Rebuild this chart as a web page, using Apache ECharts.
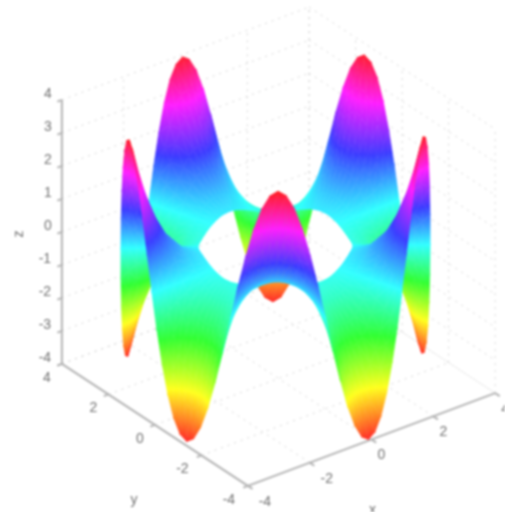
<!DOCTYPE html>
<html>
<head>
<meta charset="utf-8">
<style>
html,body{margin:0;padding:0;background:#fff;}
#chart{width:505px;height:512px;filter:blur(1px);}
</style>
<script src="https://cdn.jsdelivr.net/npm/echarts@6/dist/echarts.min.js"></script>
</head>
<body>
<div id="chart"></div>
<script>
var xTicks = [-4, -2, 0, 2, 4];
var yTicks = [-4, -2, 0, 2, 4];
var zTicks = [-4, -3, -2, -1, 0, 1, 2, 3, 4];

// surface: one row per radius, one value every 3 degrees
var radii = [2.0, 2.5, 3.0, 3.3, 3.6, 3.8, 4.0];
var angleStep = 3;
var ring20 = [0,.03,.06,.09,.11,.12,.13,.12,.11,.09,.06,.03,0,-.03,-.06,-.09,-.11,-.12,-.13,-.12,-.11,-.09,-.06,-.03,0,.03,.06,.09,.11,.12,.13,.12,.11,.09,.06,.03,0,-.03,-.06,-.09,-.11,-.12,-.13,-.12,-.11,-.09,-.06,-.03,0,.03,.06,.09,.11,.12,.13,.12,.11,.09,.06,.03,0,-.03,-.06,-.09,-.11,-.12,-.13,-.12,-.11,-.09,-.06,-.03,0,.03,.06,.09,.11,.12,.13,.12,.11,.09,.06,.03,0,-.03,-.06,-.09,-.11,-.12,-.13,-.12,-.11,-.09,-.06,-.03,0,.03,.06,.09,.11,.12,.13,.12,.11,.09,.06,.03,0,-.03,-.06,-.09,-.11,-.12,-.13,-.12,-.11,-.09,-.06,-.03];
var ring25 = [0,.1,.19,.27,.33,.37,.38,.37,.33,.27,.19,.1,0,-.1,-.19,-.27,-.33,-.37,-.38,-.37,-.33,-.27,-.19,-.1,0,.1,.19,.27,.33,.37,.38,.37,.33,.27,.19,.1,0,-.1,-.19,-.27,-.33,-.37,-.38,-.37,-.33,-.27,-.19,-.1,0,.1,.19,.27,.33,.37,.38,.37,.33,.27,.19,.1,0,-.1,-.19,-.27,-.33,-.37,-.38,-.37,-.33,-.27,-.19,-.1,0,.1,.19,.27,.33,.37,.38,.37,.33,.27,.19,.1,0,-.1,-.19,-.27,-.33,-.37,-.38,-.37,-.33,-.27,-.19,-.1,0,.1,.19,.27,.33,.37,.38,.37,.33,.27,.19,.1,0,-.1,-.19,-.27,-.33,-.37,-.38,-.37,-.33,-.27,-.19,-.1];
var ring30 = [0,.25,.48,.67,.82,.92,.95,.92,.82,.67,.48,.25,0,-.25,-.48,-.67,-.82,-.92,-.95,-.92,-.82,-.67,-.48,-.25,0,.25,.48,.67,.82,.92,.95,.92,.82,.67,.48,.25,0,-.25,-.48,-.67,-.82,-.92,-.95,-.92,-.82,-.67,-.48,-.25,0,.25,.48,.67,.82,.92,.95,.92,.82,.67,.48,.25,0,-.25,-.48,-.67,-.82,-.92,-.95,-.92,-.82,-.67,-.48,-.25,0,.25,.48,.67,.82,.92,.95,.92,.82,.67,.48,.25,0,-.25,-.48,-.67,-.82,-.92,-.95,-.92,-.82,-.67,-.48,-.25,0,.25,.48,.67,.82,.92,.95,.92,.82,.67,.48,.25,0,-.25,-.48,-.67,-.82,-.92,-.95,-.92,-.82,-.67,-.48,-.25];
var ring33 = [0,.4,.77,1.08,1.33,1.48,1.53,1.48,1.33,1.08,.77,.4,0,-.4,-.77,-1.08,-1.33,-1.48,-1.53,-1.48,-1.33,-1.08,-.77,-.4,0,.4,.77,1.08,1.33,1.48,1.53,1.48,1.33,1.08,.77,.4,0,-.4,-.77,-1.08,-1.33,-1.48,-1.53,-1.48,-1.33,-1.08,-.77,-.4,0,.4,.77,1.08,1.33,1.48,1.53,1.48,1.33,1.08,.77,.4,0,-.4,-.77,-1.08,-1.33,-1.48,-1.53,-1.48,-1.33,-1.08,-.77,-.4,0,.4,.77,1.08,1.33,1.48,1.53,1.48,1.33,1.08,.77,.4,0,-.4,-.77,-1.08,-1.33,-1.48,-1.53,-1.48,-1.33,-1.08,-.77,-.4,0,.4,.77,1.08,1.33,1.48,1.53,1.48,1.33,1.08,.77,.4,0,-.4,-.77,-1.08,-1.33,-1.48,-1.53,-1.48,-1.33,-1.08,-.77,-.4];
var ring36 = [0,.61,1.18,1.67,2.04,2.28,2.36,2.28,2.04,1.67,1.18,.61,0,-.61,-1.18,-1.67,-2.04,-2.28,-2.36,-2.28,-2.04,-1.67,-1.18,-.61,0,.61,1.18,1.67,2.04,2.28,2.36,2.28,2.04,1.67,1.18,.61,0,-.61,-1.18,-1.67,-2.04,-2.28,-2.36,-2.28,-2.04,-1.67,-1.18,-.61,0,.61,1.18,1.67,2.04,2.28,2.36,2.28,2.04,1.67,1.18,.61,0,-.61,-1.18,-1.67,-2.04,-2.28,-2.36,-2.28,-2.04,-1.67,-1.18,-.61,0,.61,1.18,1.67,2.04,2.28,2.36,2.28,2.04,1.67,1.18,.61,0,-.61,-1.18,-1.67,-2.04,-2.28,-2.36,-2.28,-2.04,-1.67,-1.18,-.61,0,.61,1.18,1.67,2.04,2.28,2.36,2.28,2.04,1.67,1.18,.61,0,-.61,-1.18,-1.67,-2.04,-2.28,-2.36,-2.28,-2.04,-1.67,-1.18,-.61];
var ring38 = [0,.8,1.55,2.15,2.62,2.9,3.0,2.9,2.62,2.15,1.55,.8,0,-.8,-1.55,-2.19,-2.68,-2.99,-3.1,-2.99,-2.68,-2.19,-1.55,-.8,0,.8,1.55,2.15,2.62,2.9,3.0,2.9,2.62,2.15,1.55,.8,0,-.8,-1.55,-2.19,-2.68,-2.99,-3.1,-2.99,-2.68,-2.19,-1.55,-.8,0,.8,1.55,2.19,2.68,2.99,3.1,2.99,2.68,2.19,1.55,.8,0,-.8,-1.55,-2.19,-2.68,-2.99,-3.1,-2.99,-2.68,-2.19,-1.55,-.8,0,.8,1.55,2.19,2.68,2.99,3.1,2.99,2.68,2.19,1.55,.8,0,-.8,-1.55,-2.19,-2.68,-2.99,-3.1,-2.99,-2.68,-2.19,-1.55,-.8,0,.8,1.55,2.19,2.68,2.99,3.1,2.99,2.68,2.19,1.55,.8,0,-.8,-1.55,-2.19,-2.68,-2.99,-3.1,-2.99,-2.68,-2.19,-1.55,-.8];
var ring40 = [0,1.01,1.95,2.76,3.38,3.76,3.9,3.76,3.38,2.76,1.95,1.01,0,-1.04,-2,-2.83,-3.46,-3.86,-4,-3.86,-3.46,-2.83,-2,-1.04,0,1.01,1.95,2.76,3.38,3.76,3.9,3.76,3.38,2.76,1.95,1.01,0,-1.04,-2,-2.83,-3.46,-3.86,-4,-3.86,-3.46,-2.83,-2,-1.04,0,1.04,2,2.83,3.46,3.86,4,3.86,3.46,2.83,2,1.04,0,-1.04,-2,-2.83,-3.46,-3.86,-4,-3.86,-3.46,-2.83,-2,-1.04,0,1.04,2,2.83,3.46,3.86,4,3.86,3.46,2.83,2,1.04,0,-1.04,-2,-2.83,-3.46,-3.86,-4,-3.86,-3.46,-2.83,-2,-1.04,0,1.04,2,2.83,3.46,3.86,4,3.86,3.46,2.83,2,1.04,0,-1.04,-2,-2.83,-3.46,-3.86,-4,-3.86,-3.46,-2.83,-2,-1.04];
var rings = [ring20, ring25, ring30, ring33, ring36, ring38, ring40];

var colorZ = [-4, -2.67, -1.33, 0, 1.33, 2.67, 4];
var colorRgb = [[255,40,40],[255,255,30],[50,255,50],[50,255,255],[60,60,255],[255,30,255],[255,30,30]];

// camera: pixels per data unit of the box, orthographic
var view = {cx: 278.5, cy: 246.5, xx: 30.9, xy: -11.6, yx: -23.25, yy: -15.25, zy: -33};
// the surface sits a little left of the box in the picture (the original has slight perspective)
var surfaceDx = -3;

function project(x, y, z) {
    return [view.cx + view.xx * x + view.yx * y, view.cy + view.xy * x + view.yy * y + view.zy * z];
}

function depthOf(x, y, z) {
    return -0.784 * x - 1.031 * y + 0.839 * z;
}

function colorAt(z) {
    var i = 0;
    if (z <= colorZ[0]) return colorRgb[0];
    while (i < colorZ.length - 2 && z > colorZ[i + 1]) i++;
    var t = Math.min(1, (z - colorZ[i]) / (colorZ[i + 1] - colorZ[i]));
    var a = colorRgb[i], b = colorRgb[i + 1];
    return [a[0] + (b[0] - a[0]) * t, a[1] + (b[1] - a[1]) * t, a[2] + (b[2] - a[2]) * t];
}

function css(c) {
    return 'rgb(' + Math.round(c[0]) + ',' + Math.round(c[1]) + ',' + Math.round(c[2]) + ')';
}

function triFill(pts) {
    // pts: [[px,py,z],...], gradient runs across the z iso-lines of the triangle
    pts = pts.slice().sort(function (p, q) { return p[2] - q[2]; });
    var a = pts[0], b = pts[1], c = pts[2];
    var dz = c[2] - a[2];
    if (dz < 1e-6) return css(colorAt(a[2]));
    var t = (b[2] - a[2]) / dz;
    var ex = a[0] + (c[0] - a[0]) * t - b[0], ey = a[1] + (c[1] - a[1]) * t - b[1];
    var len = Math.sqrt(ex * ex + ey * ey);
    var nx, ny;
    if (len < 1e-6) {
        nx = c[0] - a[0]; ny = c[1] - a[1];
        len = Math.sqrt(nx * nx + ny * ny) || 1;
        nx /= len; ny /= len;
    } else {
        nx = -ey / len; ny = ex / len;
    }
    var d = (c[0] - a[0]) * nx + (c[1] - a[1]) * ny;
    if (Math.abs(d) < 0.01) return css(colorAt((a[2] + c[2]) / 2));
    var stops = [{offset: 0, color: css(colorAt(a[2]))}];
    colorZ.forEach(function (z) {
        if (z > a[2] && z < c[2]) stops.push({offset: (z - a[2]) / dz, color: css(colorAt(z))});
    });
    stops.push({offset: 1, color: css(colorAt(c[2]))});
    return new echarts.graphic.LinearGradient(a[0], a[1], a[0] + nx * d, a[1] + ny * d, stops, true);
}

function buildCells() {
    var cells = [];
    var n = ring40.length;
    function vertex(i, j) {
        var th = j * angleStep * Math.PI / 180;
        return [radii[i] * Math.cos(th), radii[i] * Math.sin(th), rings[i][j % n]];
    }
    function push(p, q, s) {
        cells.push(p.concat(q, s, [depthOf((p[0] + q[0] + s[0]) / 3, (p[1] + q[1] + s[1]) / 3, (p[2] + q[2] + s[2]) / 3)]));
    }
    for (var i = 0; i < radii.length - 1; i++) {
        for (var j = 0; j < n; j++) {
            var a = vertex(i, j), b = vertex(i + 1, j), c = vertex(i + 1, j + 1), d = vertex(i, j + 1);
            push(a, b, c);
            push(a, c, d);
        }
    }
    cells.sort(function (p, q) { return p[9] - q[9]; });
    return cells;
}

function renderCell(params, api) {
    var pts = [0, 3, 6].map(function (k) {
        var z = api.value(k + 2);
        var xy = project(api.value(k), api.value(k + 1), z);
        var p = api.coord([xy[0] + surfaceDx, xy[1]]);
        return [p[0], p[1], z];
    });
    var fill = triFill(pts);
    return {
        type: 'polygon',
        shape: {points: pts.map(function (p) { return [p[0], p[1]]; })},
        style: {fill: fill, stroke: fill, lineWidth: 0.6}
    };
}

function lineRenderer(style) {
    return function (params, api) {
        var p = api.coord(project(api.value(0), api.value(1), api.value(2)));
        var q = api.coord(project(api.value(3), api.value(4), api.value(5)));
        return {type: 'line', shape: {x1: p[0], y1: p[1], x2: q[0], y2: q[1]}, style: style};
    };
}

function buildGrid() {
    var out = [];
    zTicks.forEach(function (z) {
        out.push([-4, 4, z, 4, 4, z]);
        out.push([4, 4, z, 4, -4, z]);
    });
    xTicks.forEach(function (x) {
        out.push([x, 4, -4, x, 4, 4]);
        out.push([x, -4, -4, x, 4, -4]);
    });
    yTicks.forEach(function (y) {
        out.push([4, y, -4, 4, y, 4]);
        out.push([-4, y, -4, 4, y, -4]);
    });
    return out;
}

function buildAxes() {
    var out = [
        [-4, 4, -4, -4, 4, 4],
        [-4, 4, -4, -4, -4, -4],
        [-4, -4, -4, 4, -4, -4]
    ];
    zTicks.forEach(function (z) { out.push([-4, 4, z, -4.15, 4, z]); });
    yTicks.forEach(function (y) { out.push([-4, y, -4, -4.15, y, -4]); });
    xTicks.forEach(function (x) { out.push([x, -4, -4, x, -4.2, -4]); });
    return out;
}

var labels = [];
zTicks.forEach(function (z) { labels.push({pos: [-4, 4, z], text: String(z), dx: z < 0 ? -17 : -14, dy: -6}); });
yTicks.forEach(function (y) { labels.push({pos: [-4, y, -4], text: String(y), dx: y < 0 ? -19 : -15, dy: 14}); });
xTicks.forEach(function (x) { labels.push({pos: [x, -4, -4], text: String(x), dx: x < 0 ? 17 : 10, dy: 16}); });
labels.push({pos: [-4, 4, 0], text: 'z', dx: -43, dy: 2, rotate: Math.PI / 2});
labels.push({pos: [-4, 0, -4], text: 'y', dx: -21, dy: 75});
labels.push({pos: [0, -4, -4], text: 'x', dx: 1, dy: 71});

function textRenderer(params, api) {
    var p = api.coord(project(api.value(0), api.value(1), api.value(2)));
    var item = labels[params.dataIndex];
    return {
        type: 'text',
        x: p[0] + item.dx,
        y: p[1] + item.dy,
        rotation: item.rotate || 0,
        style: {text: item.text, fill: '#707070', font: '14px "Liberation Sans", sans-serif', textAlign: 'center', textVerticalAlign: 'middle'}
    };
}

var chart = echarts.init(document.getElementById('chart'), null, {renderer: 'canvas'});
chart.setOption({
    animation: false,
    backgroundColor: '#fff',
    grid: {left: 0, right: 0, top: 0, bottom: 0},
    xAxis: {type: 'value', min: 0, max: 505, show: false},
    yAxis: {type: 'value', min: 0, max: 512, inverse: true, show: false},
    series: [
        {type: 'custom', silent: true, z: 1, clip: false, renderItem: lineRenderer({stroke: '#d8d8d8', lineWidth: 1, lineDash: [2, 5]}), data: buildGrid()},
        {type: 'custom', silent: true, z: 2, clip: false, renderItem: lineRenderer({stroke: '#b4b4b4', lineWidth: 2}), data: buildAxes()},
        {type: 'custom', silent: true, z: 3, clip: false, progressive: 0, renderItem: renderCell, data: buildCells()},
        {type: 'custom', silent: true, z: 4, clip: false, renderItem: textRenderer, data: labels.map(function (l) { return l.pos; })}
    ]
});
</script>
</body>
</html>
